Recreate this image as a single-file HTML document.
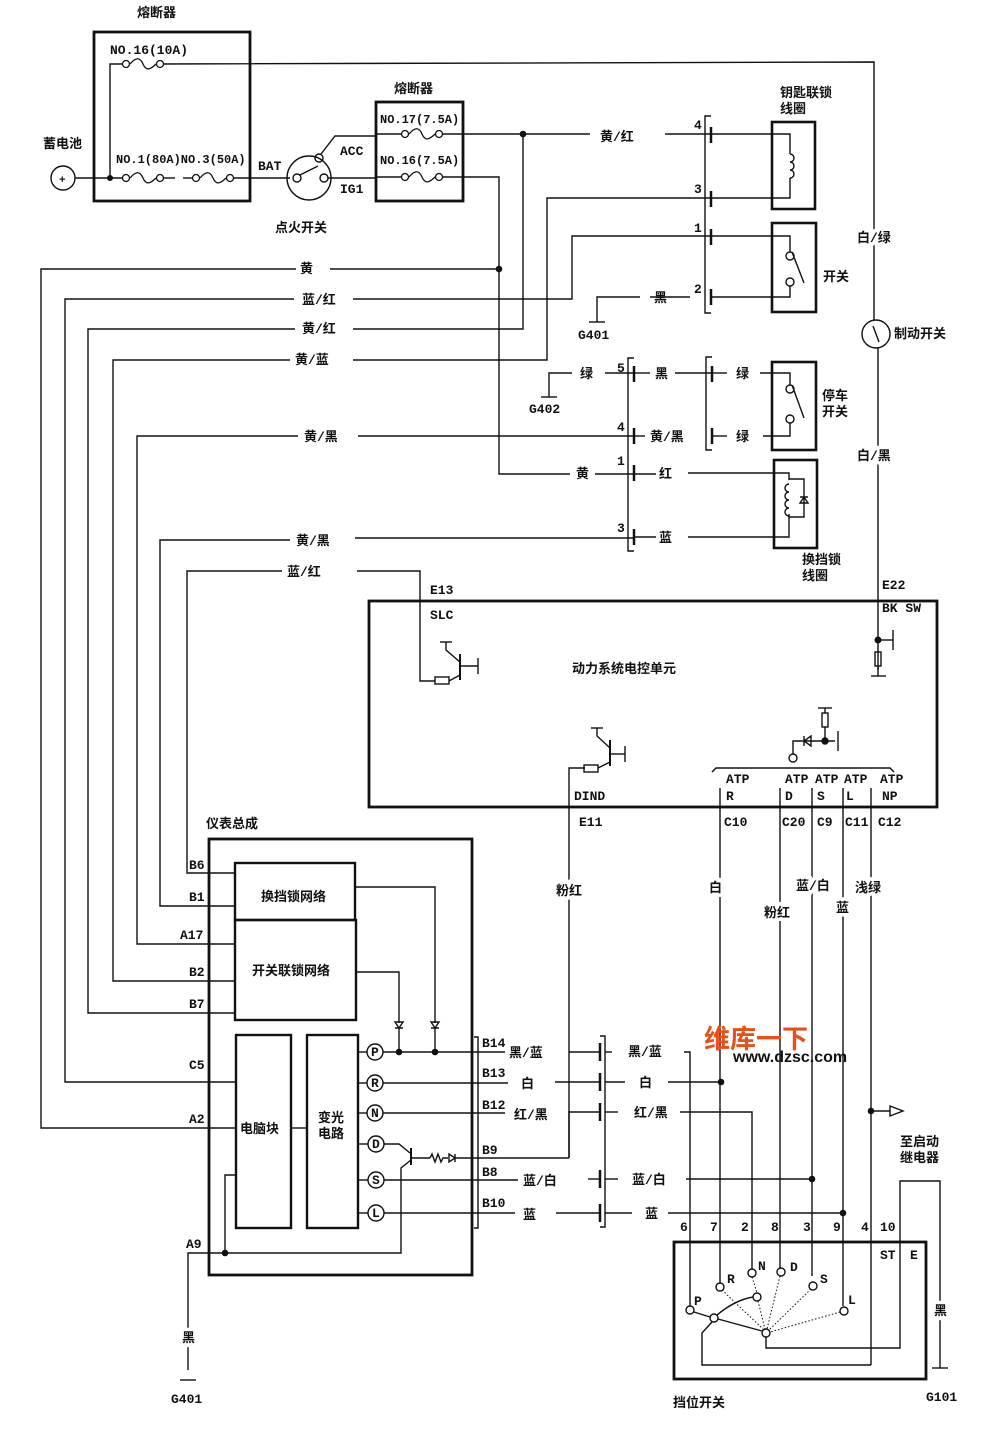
<!DOCTYPE html>
<html><head><meta charset="utf-8"><style>
html,body{margin:0;padding:0;background:#fff}
svg{display:block}
text{font-family:"Liberation Mono","Noto Sans CJK SC",monospace;font-size:13px;fill:#111;font-weight:bold}
.c{font-family:"Liberation Sans","Noto Sans CJK SC",sans-serif;font-weight:bold}
.h{paint-order:stroke;stroke:#fff;stroke-width:7px}
</style></head><body>
<svg width="1000" height="1436" viewBox="0 0 1000 1436" xmlns="http://www.w3.org/2000/svg">
<defs>
<g id="fz"><circle cx="0" cy="0" r="3.5" fill="#fff" stroke="#111" stroke-width="1.3"/><path d="M4,0 C10,-7 14,-7 17,0 C20,7 24,6 30,0" fill="none" stroke="#111" stroke-width="1.3"/><circle cx="34" cy="0" r="3.5" fill="#fff" stroke="#111" stroke-width="1.3"/></g>
</defs>
<g fill="none" stroke="#111" stroke-width="1.4">
<rect x="94" y="32" width="156" height="169" stroke-width="2.8"/>
<polyline points="160,64 874,62 874,320"/>
<polyline points="110,178 110,64 125,64"/>
<line x1="75" y1="178" x2="125" y2="178"/>
<line x1="160" y1="178" x2="175" y2="178"/>
<line x1="183" y1="178" x2="195" y2="178"/>
<line x1="230" y1="178" x2="290" y2="178"/>
<circle cx="63" cy="178" r="12"/>
<circle cx="309" cy="178" r="22"/>
<circle cx="297" cy="178" r="4"/>
<circle cx="324" cy="178" r="4"/>
<circle cx="319" cy="158" r="4"/>
<line x1="300" y1="175" x2="318" y2="166"/>
<polyline points="321,154 335,136 376,136"/>
<line x1="328" y1="178" x2="376" y2="178"/>
<rect x="376" y="102" width="87" height="99" stroke-width="2.8"/>
<line x1="376" y1="134" x2="405" y2="134"/>
<line x1="376" y1="177" x2="405" y2="177"/>
<line x1="439" y1="134" x2="590" y2="134"/>
<line x1="665" y1="134" x2="711" y2="134"/>
<polyline points="439,177 499,177 499,474 570,474"/>
<polyline points="523,134 523,329 353,329"/><polyline points="295,329 88,329 88,1013 209,1013"/>
<polyline points="711,198 547,198 547,360 353,360"/><polyline points="290,360 113,360 113,981 209,981"/>
<polyline points="711,236 572,236 572,299 353,299"/><polyline points="294,299 65,299 65,1082 209,1082"/>
<polyline points="499,269 330,269"/><polyline points="296,269 41,269 41,1128 209,1128"/>
<polyline points="634,436 358,436"/><polyline points="298,436 137,436 137,944 209,944"/>
<polyline points="634,538 355,538"/><polyline points="290,540 160,540 160,906 209,906"/>
<polyline points="420,680 420,571 357,571"/><polyline points="282,571 187,571 187,873 209,873"/>
<line x1="209" y1="873" x2="235" y2="873"/><line x1="209" y1="906" x2="235" y2="906"/><line x1="209" y1="944" x2="235" y2="944"/><line x1="209" y1="981" x2="235" y2="981"/><line x1="209" y1="1013" x2="235" y2="1013"/><line x1="209" y1="1082" x2="236" y2="1082"/><line x1="209" y1="1128" x2="236" y2="1128"/>
<polyline points="711,116 705,116 705,313 711,313"/>
<g stroke-width="2.5"><line x1="711" y1="127" x2="711" y2="143"/><line x1="711" y1="191" x2="711" y2="207"/><line x1="711" y1="229" x2="711" y2="245"/><line x1="711" y1="289" x2="711" y2="305"/></g>
<rect x="772" y="122" width="43" height="87" stroke-width="2.6"/>
<rect x="772" y="223" width="44" height="89" stroke-width="2.6"/>
<polyline points="711,134 790,134 790,154"/>
<path d="M790,154 a4,4 0 0 1 0,8 a4,4 0 0 1 0,8 a4,4 0 0 1 0,8"/>
<polyline points="790,178 790,198 711,198"/>
<polyline points="711,236 790,236 790,252"/>
<circle cx="790" cy="256" r="4"/><circle cx="790" cy="282" r="4"/>
<line x1="792" y1="252" x2="804" y2="283"/>
<polyline points="790,286 790,297 711,297"/>
<line x1="650" y1="297" x2="690" y2="297"/>
<polyline points="640,297 597,297 597,322"/><line x1="589" y1="322" x2="605" y2="322"/>
<polyline points="634,358 628,358 628,551 634,551"/>
<g stroke-width="2.5"><line x1="634" y1="366" x2="634" y2="382"/><line x1="634" y1="428" x2="634" y2="444"/><line x1="634" y1="465" x2="634" y2="481"/><line x1="634" y1="529" x2="634" y2="545"/></g>
<polyline points="549,397 549,373 572,373"/><line x1="541" y1="397" x2="557" y2="397"/>
<line x1="605" y1="373" x2="634" y2="373"/>
<line x1="634" y1="373" x2="650" y2="373"/><line x1="675" y1="373" x2="712" y2="373"/>
<line x1="634" y1="436" x2="645" y2="436"/>
<line x1="595" y1="474" x2="656" y2="474"/>
<line x1="634" y1="537" x2="656" y2="537"/>
<polyline points="712,357 706,357 706,450 712,450"/>
<g stroke-width="2.5"><line x1="712" y1="366" x2="712" y2="382"/><line x1="712" y1="428" x2="712" y2="444"/></g>
<line x1="712" y1="373" x2="727" y2="373"/><line x1="712" y1="436" x2="727" y2="436"/>
<rect x="772" y="362" width="44" height="88" stroke-width="2.6"/>
<polyline points="760,373 790,373 790,385"/><circle cx="790" cy="389" r="4"/><circle cx="790" cy="419" r="4"/>
<line x1="792" y1="385" x2="804" y2="418"/><polyline points="790,423 790,436 763,436"/>
<rect x="774" y="460" width="43" height="88" stroke-width="2.6"/>
<polyline points="688,473 789,473 789,480"/>
<path d="M789,484 a4,4 0 0 0 0,8 a4,4 0 0 0 0,8 a4,4 0 0 0 0,8 a4,4 0 0 0 0,8"/>
<polyline points="789,514 789,537 688,537"/>
<polyline points="789,479 804,479 804,517 789,517"/>
<path d="M800,503 L808,503 L804,497 Z M800,497 L808,497"/>
<circle cx="876" cy="334" r="14"/>
<line x1="873" y1="326" x2="879" y2="342"/>
<polyline points="878,348 878,670"/>
<rect x="875" y="652" width="6" height="14"/>
<line x1="871" y1="676" x2="886" y2="676"/><line x1="878" y1="666" x2="878" y2="676"/>
<line x1="878" y1="640" x2="893" y2="640"/><line x1="893" y1="630" x2="893" y2="650"/>
<rect x="369" y="601" width="568" height="206" stroke-width="2.8"/>
<polyline points="420,680 420,681 435,681"/>
<rect x="435" y="677" width="14" height="7"/>
<polyline points="449,681 460,675"/>
<line x1="460" y1="654" x2="460" y2="680" stroke-width="2"/>
<polyline points="460,662 446,650 446,642"/><line x1="440" y1="642" x2="452" y2="642"/>
<line x1="460" y1="666" x2="478" y2="666"/><line x1="478" y1="658" x2="478" y2="674"/>
<polyline points="569,1158 569,768 585,768"/>
<rect x="584" y="765" width="14" height="7"/>
<polyline points="598,768 610,762"/>
<line x1="610" y1="740" x2="610" y2="766" stroke-width="2"/>
<polyline points="610,748 597,736 597,728"/><line x1="591" y1="728" x2="603" y2="728"/>
<line x1="610" y1="754" x2="625" y2="754"/><line x1="625" y1="746" x2="625" y2="762"/>
<polyline points="712,772 716,768 890,768 894,772"/>
<circle cx="793" cy="758" r="4"/>
<polyline points="793,754 793,741 835,741"/>
<path d="M804,741 L811,736 L811,746 Z M804,736 L804,746"/>
<circle cx="825" cy="741" r="3" fill="#111"/>
<line x1="825" y1="741" x2="825" y2="727"/><rect x="822" y="713" width="6" height="14"/><line x1="825" y1="713" x2="825" y2="708"/><line x1="818" y1="708" x2="832" y2="708"/>
<line x1="838" y1="731" x2="838" y2="751"/>
<line x1="720" y1="788" x2="720" y2="1283"/>
<line x1="780" y1="788" x2="780" y2="1268"/>
<line x1="812" y1="788" x2="812" y2="1276"/>
<line x1="843" y1="788" x2="843" y2="1306"/>
<line x1="871" y1="788" x2="871" y2="1365"/>
<polyline points="871,1111 890,1111"/><path d="M890,1106 L903,1111 L890,1116 Z" fill="#fff"/>
<rect x="209" y="839" width="263" height="436" stroke-width="2.8"/>
<rect x="235" y="863" width="120" height="57" stroke-width="2.4"/>
<rect x="235" y="920" width="121" height="100" stroke-width="2.4"/>
<rect x="236" y="1035" width="55" height="193" stroke-width="2.4"/>
<rect x="307" y="1035" width="51" height="193" stroke-width="2.4"/>
<line x1="291" y1="1128" x2="307" y2="1128"/>
<polyline points="355,887 435,887 435,1023"/>
<polyline points="356,972 399,972 399,1023"/>
<path d="M395,1022 L403,1022 L399,1028 Z M395,1028 L403,1028" />
<path d="M431,1022 L439,1022 L435,1028 Z M431,1028 L439,1028" />
<line x1="399" y1="1028" x2="399" y2="1052"/><line x1="435" y1="1028" x2="435" y2="1052"/>
<g fill="#fff"><circle cx="375" cy="1052" r="8"/><circle cx="375" cy="1083" r="8"/><circle cx="375" cy="1113" r="8"/><circle cx="376" cy="1144" r="8"/><circle cx="376" cy="1180" r="8"/><circle cx="376" cy="1213" r="8"/></g>
<line x1="358" y1="1052" x2="367" y2="1052"/><line x1="358" y1="1083" x2="367" y2="1083"/><line x1="358" y1="1113" x2="367" y2="1113"/><line x1="358" y1="1144" x2="368" y2="1144"/><line x1="358" y1="1180" x2="368" y2="1180"/><line x1="358" y1="1213" x2="368" y2="1213"/>
<line x1="383" y1="1052" x2="505" y2="1052"/>
<line x1="383" y1="1083" x2="508" y2="1083"/>
<line x1="383" y1="1113" x2="505" y2="1113"/>
<line x1="384" y1="1180" x2="518" y2="1180"/>
<line x1="384" y1="1213" x2="515" y2="1213"/>
<polyline points="384,1144 399,1144 410,1153"/>
<line x1="411" y1="1148" x2="411" y2="1165" stroke-width="2"/>
<polyline points="411,1160 401,1168 401,1253 188,1253 188,1370"/>
<polyline points="225,1253 225,1175 236,1175"/>
<line x1="411" y1="1158" x2="430" y2="1158"/>
<path d="M430,1158 l2,-4 l3,8 l3,-8 l3,8 l2,-4 L448,1158"/>
<path d="M455,1154 L455,1162 M455,1158 L449,1154 L449,1162 Z"/>
<line x1="455" y1="1158" x2="569" y2="1158"/>
<polyline points="474,1037 478,1037 478,1228 474,1228"/>
<line x1="180" y1="1380" x2="196" y2="1380"/>
<polyline points="600,1036 605,1036 605,1227 600,1227"/>
<g stroke-width="2.5"><line x1="600" y1="1043" x2="600" y2="1061"/><line x1="600" y1="1073" x2="600" y2="1091"/><line x1="600" y1="1103" x2="600" y2="1121"/><line x1="600" y1="1170" x2="600" y2="1188"/><line x1="600" y1="1204" x2="600" y2="1222"/></g>
<polyline points="569,1052 600,1052"/>
<line x1="555" y1="1082" x2="600" y2="1082"/>
<polyline points="569,1158 569,1112 600,1112"/>
<line x1="588" y1="1179" x2="600" y2="1179"/>
<line x1="556" y1="1213" x2="600" y2="1213"/>
<line x1="605" y1="1052" x2="612" y2="1052"/><polyline points="684,1052 690,1052 690,1306"/>
<line x1="605" y1="1082" x2="625" y2="1082"/><line x1="668" y1="1082" x2="721" y2="1082"/>
<line x1="605" y1="1112" x2="618" y2="1112"/><polyline points="680,1112 752,1112 752,1269"/>
<line x1="605" y1="1179" x2="618" y2="1179"/><line x1="686" y1="1179" x2="812" y2="1179"/>
<line x1="605" y1="1213" x2="632" y2="1213"/><line x1="668" y1="1213" x2="843" y2="1213"/>
<rect x="674" y="1242" width="252" height="137" stroke-width="2.8"/>
<g fill="#fff"><circle cx="690" cy="1310" r="4"/><circle cx="720" cy="1287" r="4"/><circle cx="752" cy="1273" r="4"/><circle cx="781" cy="1272" r="4"/><circle cx="813" cy="1286" r="4"/><circle cx="844" cy="1311" r="4"/><circle cx="757" cy="1297" r="4"/><circle cx="714" cy="1318" r="4"/><circle cx="766" cy="1333" r="4"/></g>
<line x1="694" y1="1312" x2="710" y2="1317"/><line x1="718" y1="1319" x2="762" y2="1331"/>
<path d="M717,1315 Q735,1300 753,1297"/>
<polyline points="712,1322 702,1333 702,1365 871,1365"/>
<polyline points="766,1337 766,1348 900,1348 900,1181 940,1181 940,1368"/>
<line x1="932" y1="1368" x2="948" y2="1368"/>
<g stroke-dasharray="1.5,2" stroke-width="1"><line x1="722" y1="1290" x2="764" y2="1330"/><line x1="752" y1="1277" x2="757" y2="1293"/><line x1="758" y1="1301" x2="765" y2="1329"/><line x1="780" y1="1276" x2="767" y2="1329"/><line x1="811" y1="1289" x2="769" y2="1330"/><line x1="840" y1="1312" x2="770" y2="1332"/></g>
</g>
<g fill="#111">
<circle cx="110" cy="178" r="3"/><circle cx="523" cy="134" r="3.3"/><circle cx="499" cy="269" r="3.3"/>
<circle cx="878" cy="640" r="3.5"/><circle cx="399" cy="1052" r="3.3"/><circle cx="435" cy="1052" r="3.3"/>
<circle cx="225" cy="1253" r="3.3"/><circle cx="721" cy="1082" r="3.3"/><circle cx="812" cy="1179" r="3.3"/><circle cx="843" cy="1213" r="3.3"/><circle cx="871" cy="1111" r="3.3"/>
</g>
<use href="#fz" x="126" y="64"/><use href="#fz" x="126" y="178"/><use href="#fz" x="196" y="178"/>
<use href="#fz" x="405" y="134"/><use href="#fz" x="405" y="177"/>
<text x="59" y="183" style="font-size:11px">+</text>
<g class="c">
<text x="137" y="17">熔断器</text><text x="43" y="148">蓄电池</text><text x="394" y="93">熔断器</text>
<text x="275" y="232">点火开关</text><text x="780" y="97">钥匙联锁</text><text x="780" y="113">线圈</text>
<text x="600" y="141">黄/红</text><text x="823" y="281">开关</text><text x="654" y="302">黑</text>
<text x="857" y="242" class="h">白/绿</text><text x="894" y="338">制动开关</text><text x="857" y="460" class="h">白/黑</text>
<text x="300" y="273">黄</text><text x="302" y="304">蓝/红</text><text x="302" y="333">黄/红</text><text x="295" y="364">黄/蓝</text>
<text x="304" y="441">黄/黑</text><text x="296" y="545">黄/黑</text><text x="287" y="576">蓝/红</text>
<text x="580" y="378">绿</text><text x="655" y="378">黑</text><text x="736" y="378">绿</text>
<text x="650" y="441">黄/黑</text><text x="736" y="441">绿</text>
<text x="576" y="478">黄</text><text x="659" y="478">红</text><text x="659" y="542">蓝</text>
<text x="822" y="400">停车</text><text x="822" y="416">开关</text>
<text x="802" y="564">换挡锁</text><text x="802" y="580">线圈</text>
<text x="572" y="673">动力系统电控单元</text>
<text x="206" y="828">仪表总成</text>
<text x="261" y="901">换挡锁网络</text><text x="252" y="975">开关联锁网络</text>
<text x="240" y="1133">电脑块</text><text x="318" y="1122">变光</text><text x="318" y="1138">电路</text>
<text x="556" y="895" class="h">粉红</text><text x="709" y="892" class="h">白</text><text x="796" y="890" class="h">蓝/白</text><text x="764" y="917" class="h">粉红</text><text x="836" y="912" class="h">蓝</text><text x="855" y="892" class="h">浅绿</text>
<text x="509" y="1057">黑/蓝</text><text x="521" y="1088">白</text><text x="514" y="1119">红/黑</text><text x="523" y="1185">蓝/白</text><text x="523" y="1219">蓝</text>
<text x="628" y="1056">黑/蓝</text><text x="639" y="1087">白</text><text x="634" y="1117">红/黑</text><text x="632" y="1184">蓝/白</text><text x="645" y="1218">蓝</text>
<text x="900" y="1146">至启动</text><text x="900" y="1162">继电器</text>
<text x="182" y="1342" class="h">黑</text><text x="934" y="1315" class="h">黑</text>
<text x="673" y="1407">挡位开关</text>
</g>
<text x="110" y="54">NO.16(10A)</text><text x="116" y="163" style="font-size:12px">NO.1(80A)NO.3(50A)</text>
<text x="258" y="170">BAT</text><text x="340" y="155">ACC</text><text x="340" y="193">IG1</text>
<text x="380" y="123" style="font-size:12px">NO.17(7.5A)</text><text x="380" y="164" style="font-size:12px">NO.16(7.5A)</text>
<text x="694" y="129">4</text><text x="694" y="193">3</text><text x="694" y="232">1</text><text x="694" y="293">2</text>
<text x="578" y="339">G401</text><text x="529" y="413">G402</text>
<text x="617" y="372">5</text><text x="617" y="431">4</text><text x="617" y="465">1</text><text x="617" y="532">3</text>
<text x="430" y="594">E13</text><text x="430" y="619">SLC</text><text x="882" y="589">E22</text><text x="882" y="612">BK SW</text>
<text x="726" y="783">ATP</text><text x="726" y="800">R</text><text x="785" y="783">ATP</text><text x="785" y="800">D</text><text x="815" y="783">ATP</text><text x="817" y="800">S</text><text x="844" y="783">ATP</text><text x="846" y="800">L</text><text x="880" y="783">ATP</text><text x="882" y="800">NP</text>
<text x="574" y="800">DIND</text><text x="579" y="826">E11</text>
<text x="724" y="826">C10</text><text x="782" y="826">C20</text><text x="817" y="826">C9</text><text x="845" y="826">C11</text><text x="878" y="826">C12</text>
<text x="189" y="869">B6</text><text x="189" y="901">B1</text><text x="180" y="939">A17</text><text x="189" y="976">B2</text><text x="189" y="1008">B7</text><text x="189" y="1069">C5</text><text x="189" y="1123">A2</text><text x="186" y="1248">A9</text>
<text x="482" y="1047">B14</text><text x="482" y="1077">B13</text><text x="482" y="1109">B12</text><text x="482" y="1154">B9</text><text x="482" y="1176">B8</text><text x="482" y="1207">B10</text>
<g style="font-size:11px"><text x="371" y="1056">P</text><text x="371" y="1087">R</text><text x="371" y="1117">N</text><text x="372" y="1148">D</text><text x="372" y="1184">S</text><text x="372" y="1217">L</text></g>
<text x="171" y="1403">G401</text><text x="926" y="1401">G101</text>
<text x="680" y="1231">6</text><text x="710" y="1231">7</text><text x="741" y="1231">2</text><text x="771" y="1231">8</text><text x="803" y="1231">3</text><text x="833" y="1231">9</text><text x="861" y="1231">4</text><text x="880" y="1231">10</text>
<text x="880" y="1259">ST</text><text x="910" y="1259">E</text>
<text x="694" y="1305">P</text><text x="727" y="1283">R</text><text x="758" y="1270">N</text><text x="790" y="1271">D</text><text x="820" y="1283">S</text><text x="848" y="1304">L</text>
<text x="704" y="1048" class="c" style="font-size:26px;fill:#e8501a">维库一下</text>
<text x="733" y="1062" style="font-family:'Liberation Sans',sans-serif;font-size:16px">www.dzsc.com</text>
</svg>
</body></html>
